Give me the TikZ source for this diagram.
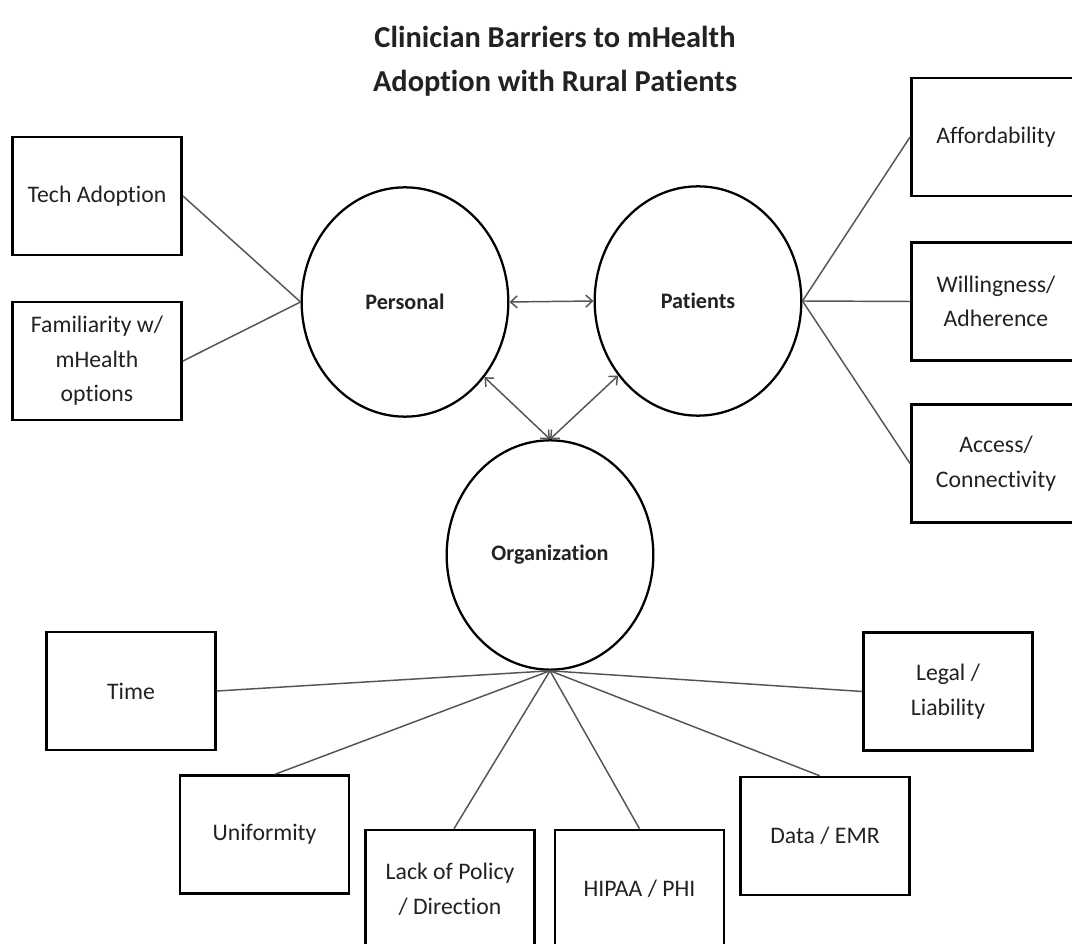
\documentclass[tikz,border=0pt]{standalone}
\usepackage{fontspec}
\setmainfont{Carlito}[Ligatures=NoCommon]
\usetikzlibrary{shapes.geometric,arrows.meta}
\definecolor{ink}{HTML}{222222}
\definecolor{wire}{HTML}{555555}
\begin{document}
\begin{tikzpicture}[x=0.75pt,y=-0.75pt,
  barrier/.style={draw=black,line width=1.9pt,rectangle,minimum width=127pt,minimum height=88.5pt,
    align=center,text=ink,font=\fontsize{17.8}{26}\selectfont,inner sep=2pt},
  hubnode/.style={draw=black,line width=1.7pt,ellipse,minimum width=155pt,minimum height=172pt,
    text=ink,font=\fontsize{16.6}{20}\selectfont\bfseries},
  link/.style={draw=wire,line width=1.1pt},
  mutual/.style={draw=wire,line width=1.1pt,{Straight Barb[length=5pt,width=9pt]}-{Straight Barb[length=5pt,width=9pt]}}]
\useasboundingbox[fill=white] (0,0) rectangle (1072,944);

% title
\node[align=center,text=ink,font=\fontsize{22.8}{33}\selectfont\bfseries] (title) at (555,61)
  {Clinician Barriers to mHealth\\Adoption with Rural Patients};

% three domains
\node[hubnode] (per) at (405,302) {Personal};
\node[hubnode] (pat) at (698,301) {Patients};
\node[hubnode] (org) at (550,555) {Organization};

% personal barriers
\node[barrier] (tech) at (97,196) {Tech Adoption};
\node[barrier] (fam) at (97,361) {Familiarity w/\\mHealth\\options};

% patient barriers
\node[barrier] (afford) at (996,137) {Affordability};
\node[barrier] (will) at (996,301.5) {Willingness/\\Adherence};
\node[barrier] (access) at (996,463.5) {Access/\\Connectivity};

% organisational barriers
\node[barrier] (time) at (131,691) {Time};
\node[barrier] (unif) at (264.5,834.5) {Uniformity};
\node[barrier] (lack) at (450,889) {Lack of Policy\\/ Direction};
\node[barrier] (hipaa) at (639.5,889) {HIPAA / PHI};
\node[barrier] (data) at (825,836) {Data / EMR};
\node[barrier] (legal) at (948,691.5) {Legal /\\Liability};

% links between domains
\draw[mutual] (per.east) -- (pat.west);
\draw[mutual] (per) -- (org.north);
\draw[mutual] (pat) -- (org.north);

% spokes
\draw[link] (tech.east) -- (per.west);
\draw[link] (fam.east) -- (per.west);
\draw[link] (pat.east) -- (afford.west);
\draw[link] (pat.east) -- (will.west);
\draw[link] (pat.east) -- (access.west);
\draw[link] (org.south) -- (time.east);
\draw[link] (org.south) -- ([xshift=8pt]unif.north);
\draw[link] (org.south) -- ([xshift=3pt]lack.north);
\draw[link] (org.south) -- (hipaa.north);
\draw[link] (org.south) -- ([xshift=-4pt]data.north);
\draw[link] (org.south) -- (legal.west);
\end{tikzpicture}
\end{document}
